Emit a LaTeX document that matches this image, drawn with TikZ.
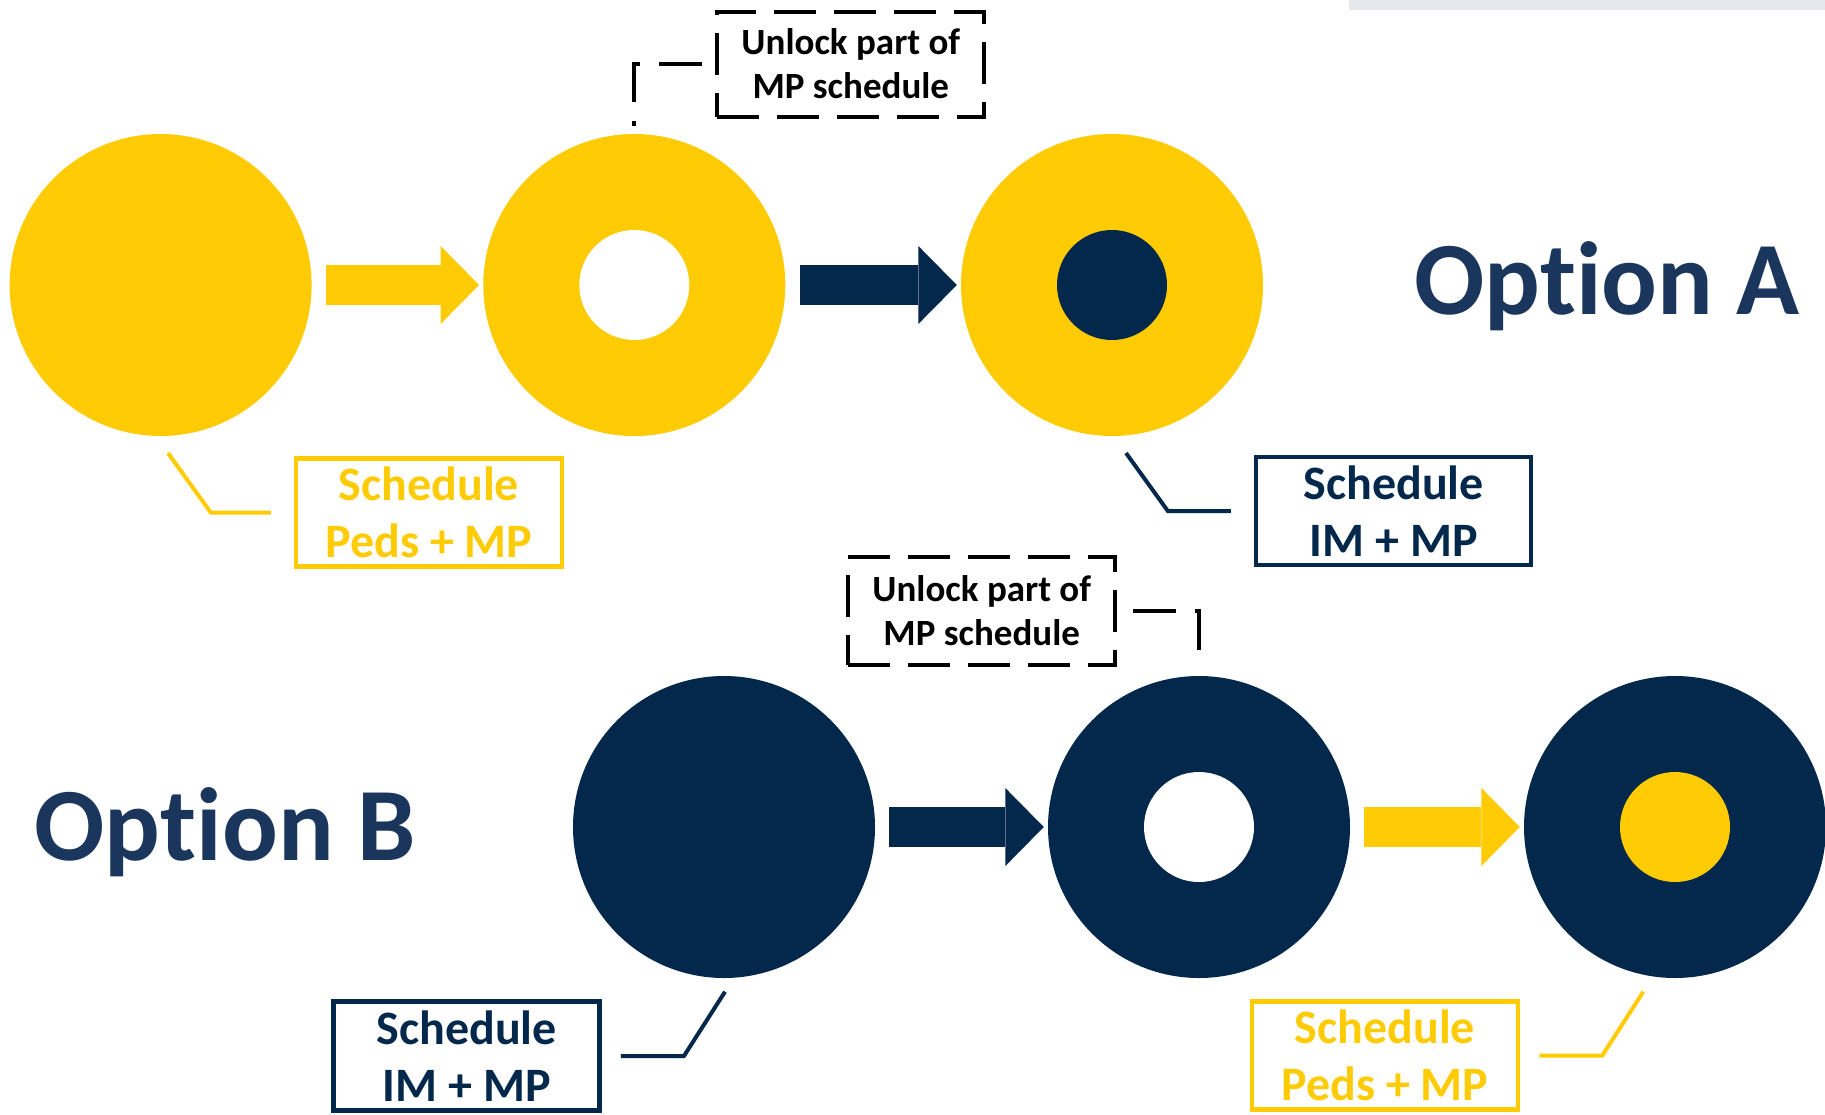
\documentclass[tikz,border=0pt]{standalone}
\usepackage{fontspec}
\setmainfont[Ligatures=NoCommon]{Carlito}
\usepackage{tikz}
\usetikzlibrary{arrows.meta,positioning,calc}

\definecolor{maize}{HTML}{FFCB05}
\definecolor{navy}{HTML}{03284B}
\definecolor{titleblue}{HTML}{1B365D}
\definecolor{bargray}{HTML}{E5E8EC}

\tikzset{
    disc/.style={circle, fill=#1, minimum size=302pt, inner sep=0pt},
    hole/.style={circle, fill=#1, minimum size=110pt, inner sep=0pt},
    blockarrow/.style={draw=#1, line width=39.5pt, -{Triangle[length=38.5pt,width=78pt,line width=0pt]}, shorten <=14pt, shorten >=4pt},
    leader/.style={draw=#1, line width=4pt},
    dashleader/.style={draw=black, line width=4pt, dash pattern=on 43pt off 19pt},
    labelbox/.style={draw=#1, text=#1, line width=4.5pt, minimum width=266pt, minimum height=108pt, align=center, font=\fontsize{48}{57}\selectfont\bfseries},
    unlockbox/.style={draw=black, line width=4pt, dash pattern=on 42pt off 18pt, minimum width=267pt, minimum height=105pt, align=center, font=\fontsize{37}{44}\selectfont\bfseries},
    optiontext/.style={text=titleblue, font=\fontsize{104}{110}\selectfont\bfseries}
}

\begin{document}
\begin{tikzpicture}[x=1pt, y=-1pt]
    \useasboundingbox (0,0) rectangle (1825,1114);
    \fill[bargray] (1349,0) rectangle (1825,10); % grey strip in the top right corner

    % option A: peds -> unlock -> IM
    \node[disc=maize] (a1) at (160.6,285) {};
    \node[disc=maize] (a2) at (634.3,285) {};
    \node[hole=white] (a2h) at (a2) {};
    \node[disc=maize] (a3) at (1112,285) {};
    \node[hole=navy] (a3h) at (a3) {};
    \node[optiontext, anchor=base] (optA) at (1607,314) {Opt\kern0pt ion A}; % kern stops the "ti" ligature

    \draw[blockarrow=maize] (a1) -- (a2);
    \draw[blockarrow=navy] (a2) -- (a3);

    \node[unlockbox] (unlA) at (850.8,64) {Unlock part of\\MP schedule};
    \node[labelbox=maize] (schA1) at (429,512.5) {Schedule\\Peds + MP};
    \node[labelbox=navy, minimum width=275pt] (schA3) at (1393.7,511.2) {Schedule\\IM + MP};

    \coordinate (a1l) at (168,453);
    \coordinate (a3l) at (1126,453);
    \draw[leader=maize, shorten >=23pt] (a1l) -- ($(schA1.west)+(-83,0)$) -- (schA1.west);  % callout to peds box
    \draw[leader=navy, shorten >=23pt] (a3l) -- ($(schA3.west)+(-86,0)$) -- (schA3.west);   % callout to IM box
    \draw[dashleader, shorten <=8pt, dash phase=38pt] (a2.north) |- (unlA.west);           % callout to unlock box

    % option B: IM -> unlock -> peds
    \node[disc=navy] (b1) at (724,827) {};
    \node[disc=navy] (b2) at (1199,827) {};
    \node[hole=white] (b2h) at (b2) {};
    \node[disc=navy] (b3) at (1675,827) {};
    \node[hole=maize] (b3h) at (b3) {};
    \node[optiontext, anchor=base] (optB) at (225,860) {Opt\kern0pt ion B};

    \draw[blockarrow=navy] (b1) -- (b2);
    \draw[blockarrow=maize] (b2) -- (b3);

    \node[unlockbox, minimum height=108pt] (unlB) at (981.7,610.8) {Unlock part of\\MP schedule};
    \node[labelbox=navy, minimum height=109pt] (schB1) at (466.7,1056) {Schedule\\IM + MP};
    \node[labelbox=maize] (schB3) at (1385,1055.5) {Schedule\\Peds + MP};

    \coordinate (b1l) at (725,991.7);
    \coordinate (b3l) at (1643.3,991.7);
    \draw[leader=navy, shorten >=19pt] (b1l) -- ($(schB1.east)+(82,0)$) -- (schB1.east);     % callout to IM box
    \draw[leader=maize, shorten >=19pt] (b3l) -- ($(schB3.east)+(82,0)$) -- (schB3.east);    % callout to peds box
    \draw[dashleader, shorten <=7pt, dash phase=43pt] (b2.north) |- (unlB.east);            % callout to unlock box
\end{tikzpicture}
\end{document}
